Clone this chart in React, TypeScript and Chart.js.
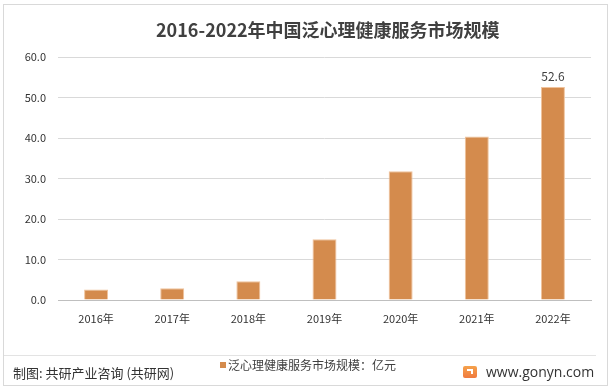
import React, { useEffect, useRef } from "react";
import { Chart, registerables } from "chart.js";

Chart.register(...registerables);

const categories = ["2016年", "2017年", "2018年", "2019年", "2020年", "2021年", "2022年"];
const marketSize = [2.6, 2.9, 4.6, 15.0, 31.8, 40.4, 52.6];
const shownLabels = [false, false, false, false, false, false, true];
const seriesName = "泛心理健康服务市场规模：亿元";
const titleText = "2016-2022年中国泛心理健康服务市场规模";
const yTicks = [0, 10, 20, 30, 40, 50, 60];

const BAR = "#D48B4D";
const CJK = '"Noto Sans CJK SC", "Noto Sans", sans-serif';

const labelPlugin = {
  id: "valueLabels",
  afterDatasetsDraw(chart: any) {
    const ctx = chart.ctx;
    const meta = chart.getDatasetMeta(0);
    ctx.save();
    ctx.font = `12px ${CJK}`;
    ctx.fillStyle = "#404040";
    ctx.textAlign = "center";
    ctx.textBaseline = "bottom";
    meta.data.forEach((bar: any, i: number) => {
      if (!shownLabels[i]) return;
      ctx.fillText(marketSize[i].toFixed(1), bar.x, bar.y - 5);
    });
    ctx.restore();
  },
};

export default function App() {
  const ref = useRef<HTMLCanvasElement | null>(null);
  useEffect(() => {
    if (!ref.current) return;
    const chart = new Chart(ref.current, {
      type: "bar",
      data: {
        labels: categories,
        datasets: [
          {
            label: seriesName,
            data: marketSize,
            backgroundColor: BAR,
            borderColor: "#F0C39C",
            borderWidth: 1,
            barPercentage: 0.315,
            categoryPercentage: 1,
          },
        ],
      },
      options: {
        responsive: false,
        animation: false,
        layout: { padding: { top: 57, right: 23, left: 0, bottom: 0 } },
        plugins: {
          legend: { display: false },
          title: { display: false },
          tooltip: { enabled: false },
        },
        scales: {
          x: {
            grid: { display: false, drawTicks: false },
            border: { display: true, color: "#BFBFBF", width: 1 },
            ticks: {
              color: "#333333",
              font: { family: CJK, size: 11 },
              padding: 12,
              maxRotation: 0,
            },
            afterFit(scale: any) {
              scale.height = 92;
            },
          },
          y: {
            min: 0,
            max: 60,
            afterBuildTicks(scale: any) {
              scale.ticks = yTicks.map((v) => ({ value: v }));
            },
            grid: { color: "#D9D9D9", lineWidth: 1, drawTicks: false },
            border: { display: false },
            ticks: {
              color: "#333333",
              font: { family: CJK, size: 11 },
              padding: 12,
              callback: (v: any) => Number(v).toFixed(1),
            },
            afterFit(scale: any) {
              scale.width = 58;
            },
          },
        },
      },
      plugins: [labelPlugin],
    });
    return () => chart.destroy();
  }, []);

  return (
    <div
      style={{
        position: "fixed",
        left: 0,
        top: 0,
        width: 614,
        height: 392,
        background: "#fff",
        overflow: "hidden",
        fontFamily: CJK,
      }}
    >
      <div
        style={{
          position: "absolute",
          left: 3,
          top: 4,
          width: 603,
          height: 380,
          border: "1px solid #D9D9D9",
        }}
      />
      <canvas ref={ref} width={614} height={392} style={{ position: "absolute", left: 0, top: 0 }} />
      <div
        style={{
          position: "absolute",
          left: 156,
          top: 17,
          fontSize: 18,
          fontWeight: "bold",
          color: "#404040",
          whiteSpace: "nowrap",
          lineHeight: "24px",
        }}
      >
        {titleText}
      </div>
      <div
        style={{
          position: "absolute",
          left: 4,
          top: 355,
          width: 592,
          height: 1,
          background: "#E3E3E3",
        }}
      />
      <div
        style={{
          position: "absolute",
          left: 13,
          top: 364,
          fontSize: 13,
          color: "#333",
          whiteSpace: "nowrap",
          lineHeight: "18px",
        }}
      >
        制图: 共研产业咨询 (共研网)
      </div>
      <div
        style={{
          position: "absolute",
          left: 220,
          top: 362,
          width: 6,
          height: 6,
          background: BAR,
        }}
      />
      <div
        style={{
          position: "absolute",
          left: 228,
          top: 357,
          fontSize: 12,
          color: "#404040",
          whiteSpace: "nowrap",
          lineHeight: "16px",
        }}
      >
        {seriesName}
      </div>
      <div
        style={{
          position: "absolute",
          left: 463,
          top: 366,
          width: 14,
          height: 12,
          borderRadius: 2,
          background: "linear-gradient(180deg, #F5A24C, #F07A3E)",
        }}
      >
        <div
          style={{
            position: "absolute",
            left: 4,
            top: 3,
            width: 6,
            height: 5,
            borderTop: "2px solid #fff",
            borderRight: "2px solid #fff",
            boxSizing: "border-box",
          }}
        />
      </div>
      <div
        style={{
          position: "absolute",
          left: 486,
          top: 362,
          fontSize: 14,
          color: "#333",
          whiteSpace: "nowrap",
          lineHeight: "20px",
          fontFamily: '"Open Sans", "Noto Sans", sans-serif',
        }}
      >
        www.gonyn.com
      </div>
    </div>
  );
}
